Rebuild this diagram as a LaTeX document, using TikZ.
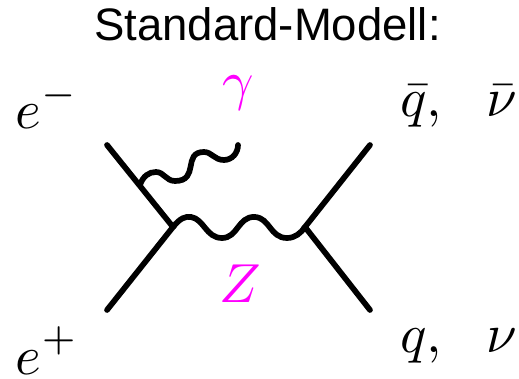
\documentclass[tikz,border=0pt]{standalone}
\usepackage{fontspec}
\setmainfont{Liberation Sans}
\definecolor{labelmag}{RGB}{255,0,255}
\newcommand{\supsh}[1]{^{\mkern0.5mu\raisebox{0.6pt}{$\scriptstyle#1$}}}
\tikzset{
  fermion/.style={line width=5.7pt,line cap=round},
  boson/.style={line width=5.7pt,line cap=round},
  lab/.style={inner sep=0pt,anchor=base west,scale=5.5},
  maglab/.style={lab,text=labelmag},
}
\begin{document}
\begin{tikzpicture}[x=1pt,y=-1pt]
\useasboundingbox (0,0) rectangle (519,379);
\node[inner sep=0pt,anchor=base,font=\fontsize{45.5}{45.5}\selectfont] (title) at (267.5,41) {Standard-Modell:};
\coordinate (vl) at (173,227);
\coordinate (vr) at (305,227);
\coordinate (tl) at (107,145);
\coordinate (bl) at (107,310);
\coordinate (tr) at (370,145);
\coordinate (br) at (370,310);
\coordinate (ve) at (140,185);
\coordinate (gend) at (238,145);
\draw[fermion] (tl)--(vl)--(bl);
\draw[fermion] (tr)--(vr)--(br);
\draw[boson] (vl) .. controls (180,218) and (186,216) .. (191,217) .. controls (204,219) and (206,238) .. (222,238)
  .. controls (238,238) and (238,216) .. (255,217) .. controls (270,218) and (270,238) .. (287,238)
  .. controls (295,238) and (301,233) .. (vr);
\draw[boson] (ve) .. controls (143,176) and (149,172) .. (156,172) .. controls (164,172) and (166,181) .. (175,181)
  .. controls (200,181) and (182,152) .. (204,152) .. controls (212,152) and (214,160) .. (224,160)
  .. controls (232,160) and (238,153) .. (gend);
\node[lab] (em) at (14,129) {$e\supsh{-}$};
\node[lab] (ep) at (14,374) {$e\supsh{+}$};
\node[lab] (qb) at (399,117) {$\bar{q},$};
\node[lab] (nub) at (485,117) {$\bar{\nu}$};
\node[lab] (q) at (399,352) {$q,$};
\node[lab] (nu) at (485,352) {$\nu$};
\node[maglab] (gam) at (221,100) {$\gamma$};
\node[maglab] (zb) at (218,302) {$Z$};
\end{tikzpicture}
\end{document}
